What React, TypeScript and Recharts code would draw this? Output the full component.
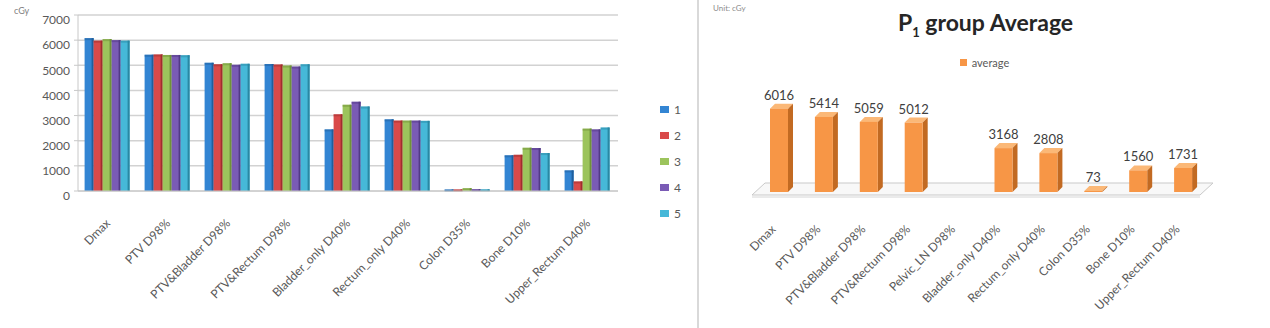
import { BarChart, Bar, XAxis, YAxis, CartesianGrid, Legend, LabelList, ReferenceArea } from 'recharts';

// organ / dose metrics (left chart has no Pelvic_LN entry)
const CATEGORIES_LEFT = [
  'Dmax',
  'PTV D98%',
  'PTV&Bladder D98%',
  'PTV&Rectum D98%',
  'Bladder_only D40%',
  'Rectum_only D40%',
  'Colon D35%',
  'Bone D10%',
  'Upper_Rectum D40%',
];

const CATEGORIES_RIGHT = [
  'Dmax',
  'PTV D98%',
  'PTV&Bladder D98%',
  'PTV&Rectum D98%',
  'Pelvic_LN D98%',
  'Bladder_only D40%',
  'Rectum_only D40%',
  'Colon D35%',
  'Bone D10%',
  'Upper_Rectum D40%',
];

// per-patient values, cGy
const PATIENT_1 = [6080, 5420, 5100, 5050, 2450, 2850, 60, 1420, 820];
const PATIENT_2 = [5980, 5430, 5040, 5030, 3050, 2800, 60, 1440, 380];
const PATIENT_3 = [6040, 5410, 5080, 4990, 3430, 2800, 110, 1720, 2480];
const PATIENT_4 = [6000, 5410, 5020, 4950, 3550, 2800, 70, 1710, 2450];
const PATIENT_5 = [5980, 5400, 5060, 5040, 3360, 2790, 65, 1510, 2525];

const AVERAGE = [6016, 5414, 5059, 5012, null, 3168, 2808, 73, 1560, 1731];

const Y_TICKS = [0, 1000, 2000, 3000, 4000, 5000, 6000, 7000];

const SERIES = [
  { key: 'p1', name: '1', values: PATIENT_1, color: '#3385D3', dark: '#1F5F9E' },
  { key: 'p2', name: '2', values: PATIENT_2, color: '#D94A4A', dark: '#A02E2E' },
  { key: 'p3', name: '3', values: PATIENT_3, color: '#9CC45C', dark: '#6F9238' },
  { key: 'p4', name: '4', values: PATIENT_4, color: '#7A5BB5', dark: '#523A86' },
  { key: 'p5', name: '5', values: PATIENT_5, color: '#46B8D8', dark: '#2A87A3' },
];

const leftData = CATEGORIES_LEFT.map((name, i) => {
  const row: Record<string, string | number> = { name };
  SERIES.forEach((s) => {
    row[s.key] = s.values[i];
  });
  return row;
});

const rightData = CATEGORIES_RIGHT.map((name, i) => ({ name, average: AVERAGE[i] }));

const FONT = 'Lato, "Liberation Sans", sans-serif';
const TEXT = '#595959';

const makeFlatBar = (color: string, dark: string) => (props: any) => {
  const { x, y, width, height } = props;
  if (!height || height <= 0) return <g />;
  return (
    <g>
      <rect x={x} y={y} width={width} height={height} fill={color} />
      <rect x={x + width - 2} y={y} width={2} height={height} fill={dark} />
      <rect x={x} y={y} width={width} height={2} fill={dark} opacity={0.5} />
    </g>
  );
};

const OrangeBar = (props: any) => {
  const { x, y, width, height } = props;
  if (height == null || isNaN(height)) return <g />;
  const d = 5;
  const h = Math.max(height, 0);
  return (
    <g>
      <polygon
        points={`${x},${y} ${x + d},${y - d} ${x + width + d},${y - d} ${x + width},${y}`}
        fill="#FBB877"
      />
      <polygon
        points={`${x + width},${y} ${x + width + d},${y - d} ${x + width + d},${y + h - d} ${x + width},${y + h}`}
        fill="#C26A22"
      />
      <rect x={x} y={y} width={width} height={h} fill="#F79646" />
    </g>
  );
};

const Floor = (props: any) => {
  const { x, y, width, height } = props;
  const base = y + height;
  return (
    <g>
      <polygon
        points={`${x - 5},${base + 3} ${x + width - 6},${base + 3} ${x + width + 7},${base - 9} ${x + 8},${base - 9}`}
        fill="#f8f8f8"
        stroke="#c9c9c9"
        strokeWidth={1}
      />
      <line x1={x - 5} y1={base + 5} x2={x + width - 6} y2={base + 5} stroke="#d6d6d6" strokeWidth={1} />
    </g>
  );
};

const RotTick = ({ dx, dy }: { dx: number; dy: number }) => (props: any) => {
  const { x, y, payload } = props;
  return (
    <text
      transform={`translate(${x + dx},${y + dy}) rotate(-45)`}
      textAnchor="end"
      fontSize={12}
      fontFamily={FONT}
      fill={TEXT}
    >
      {payload.value}
    </text>
  );
};

const LeftLegend = (props: any) => (
  <div style={{ fontFamily: FONT, fontSize: 12, color: TEXT }}>
    {(props.payload || []).map((p: any) => (
      <div key={p.value} style={{ display: 'flex', alignItems: 'center', height: 26 }}>
        <span style={{ width: 9, height: 7, background: p.color, marginRight: 5 }} />
        <span>{p.value}</span>
      </div>
    ))}
  </div>
);

const RightLegend = (props: any) => (
  <div
    style={{
      display: 'flex',
      justifyContent: 'center',
      alignItems: 'center',
      fontFamily: FONT,
      fontSize: 11,
      color: TEXT,
    }}
  >
    {(props.payload || []).map((p: any) => (
      <span key={p.value} style={{ display: 'flex', alignItems: 'center' }}>
        <span style={{ width: 7, height: 7, background: '#F79646', marginRight: 5 }} />
        {p.value}
      </span>
    ))}
  </div>
);

export default function App() {
  return (
    <div
      style={{
        position: 'absolute',
        left: 0,
        top: 0,
        width: 1270,
        height: 328,
        background: '#fff',
        overflow: 'hidden',
      }}
    >
      <div
        style={{ position: 'absolute', left: 14, top: 5, fontSize: 9, fontFamily: FONT, color: '#7f7f7f' }}
      >
        cGy
      </div>
      <div style={{ position: 'absolute', left: 0, top: 0 }}>
        <BarChart
          width={690}
          height={328}
          data={leftData}
          margin={{ top: 15, right: 72, bottom: 0, left: 0 }}
          barCategoryGap="11%"
          barGap={0}
        >
          <CartesianGrid vertical={false} stroke="#d2d2d2" strokeWidth={1.5} />
          <XAxis
            dataKey="name"
            interval={0}
            height={137}
            tickLine={false}
            tickSize={0}
            axisLine={{ stroke: '#c8c8c8' }}
            tick={RotTick({ dx: 3, dy: 31 })}
          />
          <YAxis
            width={78}
            domain={[0, 7000]}
            ticks={Y_TICKS}
            tickSize={4}
            tickMargin={4}
            axisLine={{ stroke: '#c8c8c8' }}
            tickLine={{ stroke: '#c8c8c8' }}
            tick={{ fontSize: 12, fill: TEXT, fontFamily: FONT, dy: 5 }}
          />
          <Legend
            layout="vertical"
            align="center"
            verticalAlign="middle"
            wrapperStyle={{ left: 660, top: 96, width: 30 }}
            content={LeftLegend}
          />
          {SERIES.map((s) => (
            <Bar
              key={s.key}
              dataKey={s.key}
              name={s.name}
              fill={s.color}
              shape={makeFlatBar(s.color, s.dark)}
              isAnimationActive={false}
            />
          ))}
        </BarChart>
      </div>

      <div
        style={{
          position: 'absolute',
          left: 697,
          top: 0,
          width: 573,
          height: 328,
          borderLeft: '2px solid #d9d9d9',
        }}
      >
        <div
          style={{ position: 'absolute', left: 14, top: 3, fontSize: 8, fontFamily: FONT, color: '#8c8c8c' }}
        >
          Unit: cGy
        </div>
        <div
          style={{
            position: 'absolute',
            left: 0,
            top: 8,
            width: 573,
            textAlign: 'center',
            fontFamily: FONT,
            fontWeight: 700,
            fontSize: 23,
            color: '#262626',
          }}
        >
          P<sub style={{ fontSize: 13 }}>1</sub> group Average
        </div>
        <BarChart
          width={571}
          height={328}
          data={rightData}
          margin={{ top: 95, right: 64, bottom: 0, left: 58 }}
        >
          <XAxis
            dataKey="name"
            interval={0}
            height={136}
            tickLine={false}
            tickSize={0}
            axisLine={false}
            tick={RotTick({ dx: -3, dy: 36 })}
          />
          <YAxis hide domain={[0, 7000]} />
          <ReferenceArea y1={0} y2={100} shape={Floor} ifOverflow="visible" />
          <Legend
            layout="horizontal"
            align="center"
            verticalAlign="middle"
            wrapperStyle={{ left: 0, top: 56, width: 571 }}
            content={RightLegend}
          />
          <Bar
            dataKey="average"
            name="average"
            fill="#F79646"
            barSize={18}
            shape={OrangeBar}
            isAnimationActive={false}
          >
            <LabelList
              dataKey="average"
              position="top"
              offset={9}
              fontSize={13}
              fontFamily={FONT}
              fill="#404040"
            />
          </Bar>
        </BarChart>
      </div>
    </div>
  );
}
